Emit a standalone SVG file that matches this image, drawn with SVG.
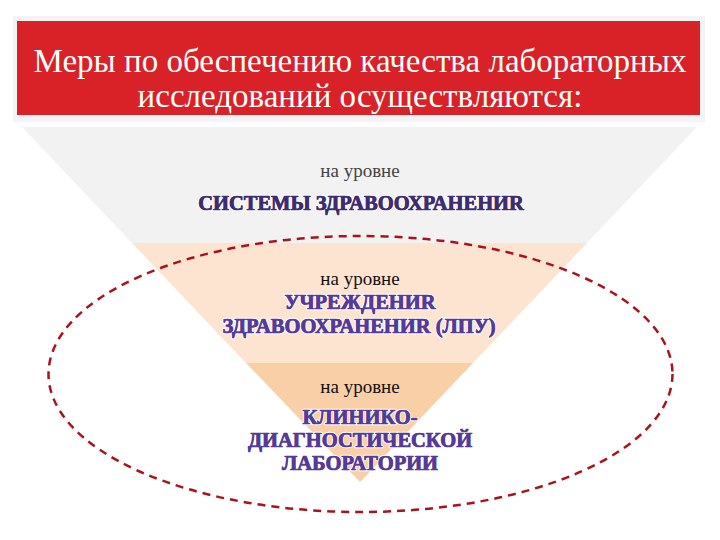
<svg xmlns="http://www.w3.org/2000/svg" width="720" height="540" viewBox="0 0 720 540">
<style>
.title{font-family:"Liberation Serif","Times New Roman",serif;font-size:33px;fill:#ffffff;text-anchor:middle}
.lvl{font-family:"Liberation Serif","Times New Roman",serif;font-size:19px;text-anchor:middle}
.cap{font-family:"Liberation Serif","Times New Roman",serif;font-size:20.5px;font-weight:bold;fill:#553a98;text-anchor:middle;stroke:#ffffff;stroke-width:2.5;paint-order:stroke;stroke-linejoin:round}
.capin{font-family:"Liberation Serif","Times New Roman",serif;font-size:20.5px;font-weight:bold;text-anchor:middle;stroke-width:0.7;stroke-linejoin:round}
</style>
<rect width="720" height="540" fill="#ffffff"/>
<g id="banner">
<rect x="13" y="16" width="692" height="106" fill="#f4f4f7"/>
<rect x="17" y="21" width="683" height="94" fill="#d92128"/>
<text class="title" x="360" y="72">Меры по обеспечению качества лабораторных</text>
<text class="title" x="360" y="107">исследований осуществляются:</text>
</g>
<g id="level1">
<polygon points="22,127 697,127 587,243 132,243" fill="#f2f2f2"/>
<text class="lvl" x="360" y="177" fill="#444444">на уровне</text>
<text class="cap" x="361" y="210" style="fill:#3e2c72">СИСТЕМЫ ЗДРАВООХРАНЕНИR</text>
<text class="capin" x="361" y="210" fill="#3e2c72" stroke="#3e2c72">СИСТЕМЫ ЗДРАВООХРАНЕНИR</text>
</g>
<g id="level2">
<polygon points="132,243 587,243 473,363 246,363" fill="#fde4d1"/>
<text class="lvl" x="360" y="285" fill="#111111">на уровне</text>
<text class="cap" x="360" y="309">УЧРЕЖДЕНИR</text>
<text class="capin" x="360" y="309" fill="#553a98" stroke="#553a98">УЧРЕЖДЕНИR</text>
<text class="cap" x="359" y="333">ЗДРАВООХРАНЕНИR (ЛПУ)</text>
<text class="capin" x="359" y="333" fill="#553a98" stroke="#553a98">ЗДРАВООХРАНЕНИR (ЛПУ)</text>
</g>
<g id="level3">
<polygon points="246,363 473,363 360,482" fill="#f9cfa8"/>
<text class="lvl" x="360" y="393" fill="#111111">на уровне</text>
<text class="cap" x="360" y="424">КЛИНИКО-</text>
<text class="capin" x="360" y="424" fill="#553a98" stroke="#553a98">КЛИНИКО-</text>
<text class="cap" x="360" y="447">ДИАГНОСТИЧЕСКОЙ</text>
<text class="capin" x="360" y="447" fill="#553a98" stroke="#553a98">ДИАГНОСТИЧЕСКОЙ</text>
<text class="cap" x="360" y="470">ЛАБОРАТОРИИ</text>
<text class="capin" x="360" y="470" fill="#553a98" stroke="#553a98">ЛАБОРАТОРИИ</text>
</g>
<g id="connectors">
<ellipse cx="360.5" cy="374" rx="312" ry="138" fill="none" stroke="#a8141c" stroke-width="2.5" stroke-dasharray="8,6"/>
</g>
</svg>
